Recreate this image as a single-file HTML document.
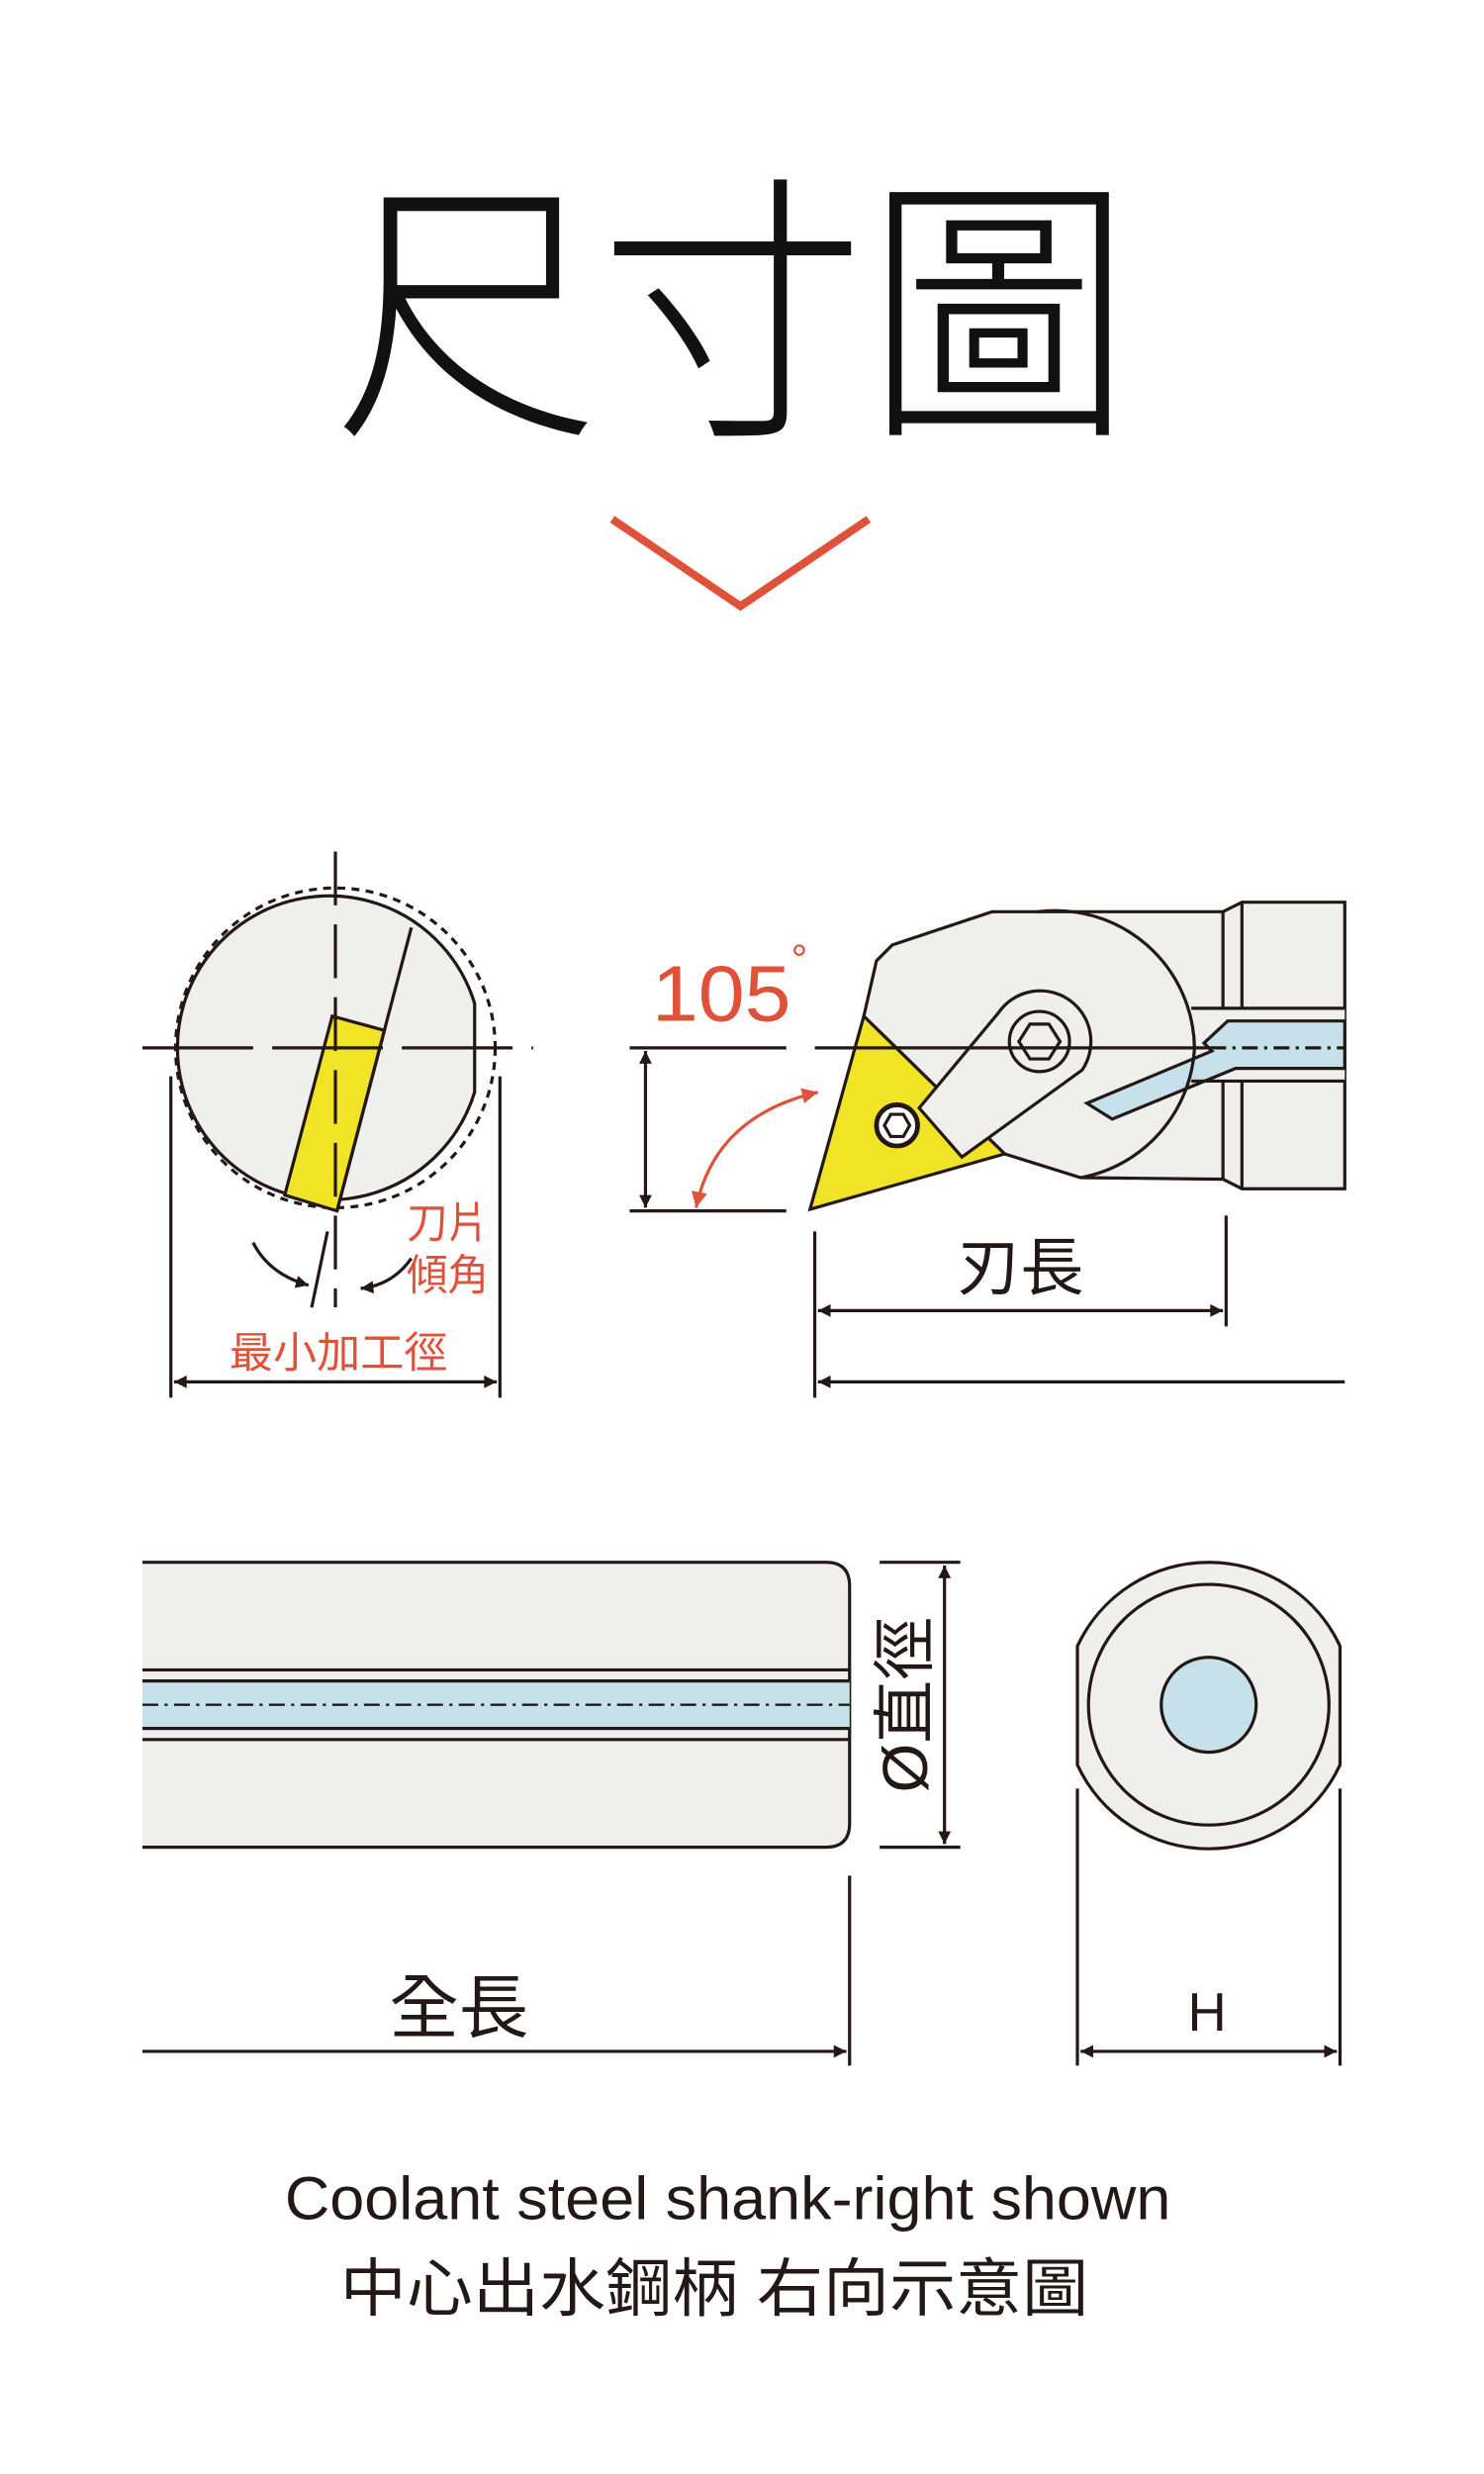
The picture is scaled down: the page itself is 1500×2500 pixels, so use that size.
<!DOCTYPE html>
<html><head><meta charset="utf-8"><style>
html,body{margin:0;padding:0;background:#fff}
svg{display:block}
text{font-family:"Liberation Sans","Noto Sans CJK TC",sans-serif}
</style></head><body>
<svg width="1500" height="2500" viewBox="0 0 938 1563" preserveAspectRatio="none" xmlns="http://www.w3.org/2000/svg">
<defs>
<marker id="ab" viewBox="0 0 10 10" refX="10" refY="5" markerWidth="14" markerHeight="8" orient="auto-start-reverse" markerUnits="userSpaceOnUse"><path d="M0,0L10,5L0,10z" fill="#231815"/></marker>
<marker id="ar" viewBox="0 0 10 10" refX="10" refY="5" markerWidth="16" markerHeight="10" orient="auto-start-reverse" markerUnits="userSpaceOnUse"><path d="M0,0L10,5L0,10z" fill="#e0513a"/></marker>
</defs>
<!-- Title -->
<text x="463" y="262" font-size="178" text-anchor="middle" textLength="505" lengthAdjust="spacingAndGlyphs" fill="#111" font-family="Noto Sans CJK TC" font-weight="300">尺寸圖</text>
<polyline points="387,328 468,383 549,328" fill="none" stroke="#e0513a" stroke-width="5"/>

<g stroke="#231815" stroke-width="2" fill="none">
<!-- Left circle view -->
<circle cx="212" cy="662" r="101" stroke-dasharray="5,4"/>
<path d="M300,634 A96,96 0 1 0 300,690 Z" fill="#efefed"/>
<polygon points="180,755 210,642 243,651 213,765" fill="#f1e325"/>
<line x1="260" y1="586" x2="213" y2="765"/>
<line x1="212" y1="538" x2="212" y2="826" stroke-dasharray="34,12"/>
<line x1="90" y1="662" x2="337" y2="662" stroke-dasharray="70,12"/>
<line x1="207" y1="778" x2="197" y2="826"/>
<path d="M160,785 Q170,805 195,812" marker-end="url(#ab)"/>
<path d="M260,795 Q248,812 228,814" marker-end="url(#ab)"/>
<line x1="108" y1="680" x2="108" y2="883"/>
<line x1="316" y1="680" x2="316" y2="883"/>
<line x1="110" y1="873" x2="314" y2="873" marker-start="url(#ab)" marker-end="url(#ab)"/>

<!-- Right holder view -->
<polygon points="546,642 554,607 564,597 627,576 773,576 785,570 850,570 850,751 785,751 773,745 683,744 635,729" fill="#efefed"/>
<rect x="751" y="637" width="99" height="46" fill="#efefed" stroke="none"/>
<polygon points="776,645 850,645 850,675 781,675 703,707 687,697 766,664 761,659" fill="#c7e1ea"/>
<path d="M656,576 A88,88 0 0 1 755,662 A88,88 0 0 1 683,744"/>
<line x1="773" y1="576" x2="773" y2="637"/><line x1="785" y1="570" x2="785" y2="637"/>
<line x1="773" y1="683" x2="773" y2="745"/><line x1="785" y1="683" x2="785" y2="751"/>
<line x1="753" y1="637" x2="850" y2="637"/><line x1="753" y1="683" x2="850" y2="683"/>
<polygon points="546,642 512,764 635,729" fill="#f1e325"/>
<circle cx="567" cy="711" r="13" stroke-width="3" fill="#fff"/>
<polygon points="575,711 571,718 563,718 559,711 563,704 571,704"/>
<path d="M581,700 L631,640 A31,31 0 0 1 684,676 L608,731 Z" fill="#efefed"/>
<circle cx="657" cy="658" r="19"/>
<polygon points="670,658 663,669 651,669 644,658 651,647 663,647"/>
<line x1="398" y1="662" x2="497" y2="662"/>
<line x1="515" y1="662" x2="765" y2="662"/>
<line x1="765" y1="662" x2="850" y2="662" stroke-dasharray="10,4,2,4"/>
<line x1="398" y1="765" x2="497" y2="765"/>
<line x1="408" y1="664" x2="408" y2="763" marker-start="url(#ab)" marker-end="url(#ab)"/>
<path d="M440,763 Q452,705 517,690" stroke="#e0513a" marker-start="url(#ar)" marker-end="url(#ar)"/>
<line x1="515" y1="778" x2="515" y2="883"/>
<line x1="775" y1="768" x2="775" y2="838"/>
<line x1="517" y1="828" x2="773" y2="828" marker-start="url(#ab)" marker-end="url(#ab)"/>
<line x1="517" y1="873" x2="850" y2="873" marker-start="url(#ab)"/>

<!-- Bottom bar -->
<path d="M90,987 H522 Q537,987 537,1002 V1152 Q537,1167 522,1167 H90 Z" fill="#efefed" stroke="none"/>
<path d="M90,987 H522 Q537,987 537,1002 V1152 Q537,1167 522,1167 H90"/>
<rect x="90" y="1062" width="447" height="30" fill="#c7e1ea" stroke="none"/>
<line x1="90" y1="1055" x2="537" y2="1055"/><line x1="90" y1="1062" x2="537" y2="1062"/>
<line x1="90" y1="1092" x2="537" y2="1092"/><line x1="90" y1="1099" x2="537" y2="1099"/>
<line x1="90" y1="1077" x2="537" y2="1077" stroke-dasharray="10,4,2,4" stroke-width="1.5"/>
<line x1="556" y1="987" x2="607" y2="987"/><line x1="556" y1="1167" x2="607" y2="1167"/>
<line x1="597" y1="989" x2="597" y2="1165" marker-start="url(#ab)" marker-end="url(#ab)"/>
<line x1="537" y1="1185" x2="537" y2="1305"/>
<line x1="90" y1="1296" x2="535" y2="1296" marker-end="url(#ab)"/>

<!-- End view -->
<path d="M681,1040 A91.5,91.5 0 0 1 847,1040 V1115 A91.5,91.5 0 0 1 681,1115 Z" fill="#efefed"/>
<circle cx="764" cy="1077" r="76"/>
<circle cx="764" cy="1077" r="30" fill="#c7e1ea"/>
<line x1="681" y1="1130" x2="681" y2="1305"/><line x1="847" y1="1130" x2="847" y2="1305"/>
<line x1="683" y1="1296" x2="845" y2="1296" marker-start="url(#ab)" marker-end="url(#ab)"/>
</g>

<g fill="#e0513a" font-family="Noto Sans CJK TC">
<text x="412" y="645" font-size="50" font-family="Liberation Sans" textLength="88" lengthAdjust="spacingAndGlyphs">105</text>
<text x="500" y="615" font-size="26" font-family="Liberation Sans">°</text>
<text x="257" y="782" font-size="27" textLength="52" lengthAdjust="spacingAndGlyphs">刀片</text>
<text x="257" y="815" font-size="27" textLength="52" lengthAdjust="spacingAndGlyphs">傾角</text>
<text x="145" y="864" font-size="27" textLength="138" lengthAdjust="spacingAndGlyphs">最小加工徑</text>
</g>
<g fill="#231815" font-family="Noto Sans CJK TC">
<text x="645" y="815" font-size="40" text-anchor="middle">刃長</text>
<text x="290" y="1284" font-size="44" text-anchor="middle">全長</text>
<text x="763" y="1283" font-size="34" text-anchor="middle" font-family="Liberation Sans">H</text>
<text transform="translate(586,1077) rotate(-90)" font-size="40" text-anchor="middle">Ø直徑</text>
<text x="180" y="1402" font-size="38" font-family="Liberation Sans" textLength="560" lengthAdjust="spacingAndGlyphs">Coolant steel shank-right shown</text>
<text x="215" y="1460" font-size="40" textLength="473" lengthAdjust="spacingAndGlyphs">中心出水鋼柄 右向示意圖</text>
</g>
</svg>
</body></html>
